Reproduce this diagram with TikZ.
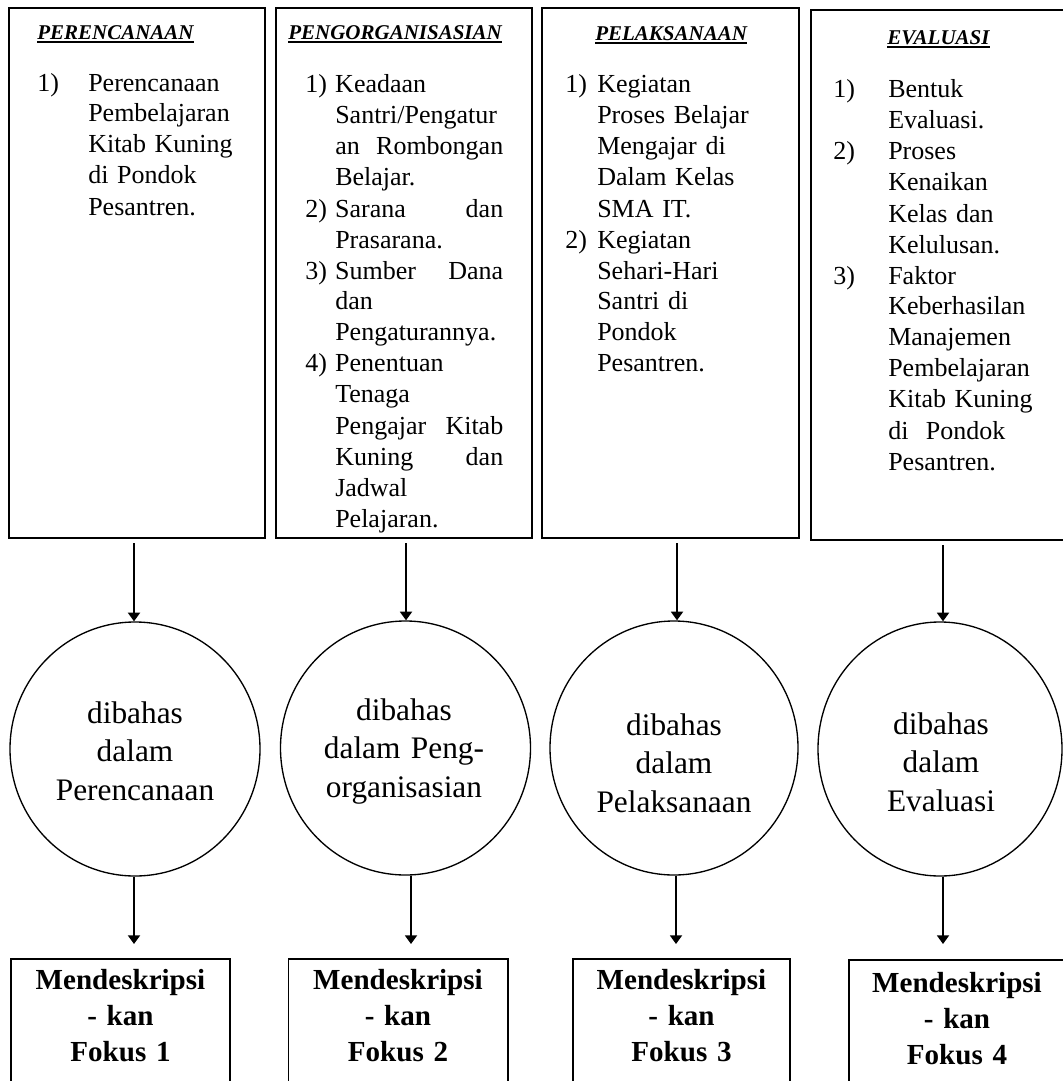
\documentclass[tikz,border=0pt]{standalone}
\usepackage{fontspec}
\setmainfont{Liberation Serif}
\usetikzlibrary{arrows.meta,fit,shapes.geometric}
\newcommand\hdrline[1]{\setbox0=\hbox{#1}\rlap{\rule[-2.4pt]{\wd0}{1.4pt}}\box0}
\begin{document}
\begin{tikzpicture}[x=0.75pt,y=-0.75pt,
  frame/.style={draw,line width=1.1pt,inner sep=0pt},
  ring/.style={draw,ellipse,line width=1pt,inner sep=0pt},
  arr/.style={line width=1.4pt,-{Triangle[width=9pt,length=6.5pt]}},
  hdr/.style={anchor=base west,inner sep=0pt,font=\fontsize{15.75}{18}\selectfont\bfseries\itshape},
  body/.style={anchor=base west,inner sep=0pt,align=left,font=\fontsize{19.5}{23.25}\selectfont},
  ctext/.style={anchor=base,inner sep=0pt,align=center,text width=165pt,font=\fontsize{23.5}{29}\selectfont},
  btext/.style={anchor=base,inner sep=0pt,align=center,text width=160pt,font=\fontsize{21.8}{27}\selectfont\bfseries}]
\useasboundingbox (0,0) rectangle (1063,1081);

% top boxes
\node[frame,fit={(9,8) (265,538)}] (b1) {};
\node[frame,fit={(276,8) (532,538)}] (b2) {};
\node[frame,fit={(542,8) (799,538)}] (b3) {};
\node[frame,fit={(811,10) (1068,540)}] (b4) {};

\node[hdr] (h1) at (37,40) {\hdrline{PERENCANAAN}};
\node[hdr] (h2) at (288,40) {\hdrline{PENGORGANISASIAN}};
\node[hdr] (h3) at (595,41) {\hdrline{PELAKSANAAN}};
\node[hdr] (h4) at (887,45) {\hdrline{EVALUASI}};

\node[body,text width=165pt] (l1) at (37,91) {%
\makebox[38.25pt][l]{1)}Perencanaan\\
\hspace*{38.25pt}Pembelajaran\\
\hspace*{38.25pt}Kitab Kuning\\
\hspace*{38.25pt}di Pondok\\
\hspace*{38.25pt}Pesantren.};

\node[body,text width=148.5pt] (l2) at (305,93) {%
\makebox[22.5pt][l]{1)}Keadaan\\
\hspace*{22.5pt}Santri/Pengatur\\
\hspace*{22.5pt}an\hfill Rombongan\\
\hspace*{22.5pt}Belajar.\\
\makebox[22.5pt][l]{2)}Sarana\hfill dan\\
\hspace*{22.5pt}Prasarana.\\
\makebox[22.5pt][l]{3)}Sumber\hfill Dana\\
\hspace*{22.5pt}dan\\
\hspace*{22.5pt}Pengaturannya.\\
\makebox[22.5pt][l]{4)}Penentuan\\
\hspace*{22.5pt}Tenaga\\
\hspace*{22.5pt}Pengajar\hfill Kitab\\
\hspace*{22.5pt}Kuning\hfill dan\\
\hspace*{22.5pt}Jadwal\\
\hspace*{22.5pt}Pelajaran.};

\node[body,text width=170pt] (l3) at (565,93) {%
\makebox[24pt][l]{1)}Kegiatan\\
\hspace*{24pt}Proses Belajar\\
\hspace*{24pt}Mengajar di\\
\hspace*{24pt}Dalam Kelas\\
\hspace*{24pt}SMA IT.\\
\makebox[24pt][l]{2)}Kegiatan\\
\hspace*{24pt}Sehari-Hari\\
\hspace*{24pt}Santri di\\
\hspace*{24pt}Pondok\\
\hspace*{24pt}Pesantren.};

\node[body,text width=168pt] (l4) at (833,98) {%
\makebox[41.25pt][l]{1)}Bentuk\\
\hspace*{41.25pt}Evaluasi.\\
\makebox[41.25pt][l]{2)}Proses\\
\hspace*{41.25pt}Kenaikan\\
\hspace*{41.25pt}Kelas dan\\
\hspace*{41.25pt}Kelulusan.\\
\makebox[41.25pt][l]{3)}Faktor\\
\hspace*{41.25pt}Keberhasilan\\
\hspace*{41.25pt}Manajemen\\
\hspace*{41.25pt}Pembelajaran\\
\hspace*{41.25pt}Kitab Kuning\\
\hspace*{41.25pt}di\ \ Pondok\\
\hspace*{41.25pt}Pesantren.};

% circles
\node[ring,minimum width=187.5pt,minimum height=190.5pt] (c1) at (135,749) {};
\node[ring,minimum width=187.5pt,minimum height=190.5pt] (c2) at (405.5,748) {};
\node[ring,minimum width=186pt,minimum height=190.5pt] (c3) at (674,748) {};
\node[ring,minimum width=183pt,minimum height=190.5pt] (c4) at (940,749) {};

\node[ctext] (t1) at (135,723) {dibahas\\dalam\\Perencanaan};
\node[ctext] (t2) at (404,720) {dibahas\\dalam Peng-\\organisasian};
\node[ctext] (t3) at (674,735) {dibahas\\dalam\\Pelaksanaan};
\node[ctext] (t4) at (941,734) {dibahas\\dalam\\Evaluasi};

% bottom boxes
\node[frame,fit={(11,959) (230,1095)}] (f1) {};
\node[frame,fit={(288.5,959) (508,1095)}] (f2) {};
\node[frame,fit={(573,959) (790,1095)}] (f3) {};
\node[frame,fit={(849,960) (1068,1095)}] (f4) {};

\node[btext] (m1) at (120.5,989) {Mendeskripsi\\- kan\\Fokus 1};
\node[btext] (m2) at (398,989) {Mendeskripsi\\- kan\\Fokus 2};
\node[btext] (m3) at (681.5,989) {Mendeskripsi\\- kan\\Fokus 3};
\node[btext] (m4) at (957,992) {Mendeskripsi\\- kan\\Fokus 4};

% arrows
\coordinate (p1) at (134,543);
\coordinate (p2) at (406,543);
\coordinate (p3) at (677,543);
\coordinate (p4) at (943,545);
\draw[arr] (p1) -- (p1 |- c1.north);
\draw[arr] (p2) -- (p2 |- c2.north);
\draw[arr] (p3) -- (p3 |- c3.north);
\draw[arr] (p4) -- (p4 |- c4.north);

\coordinate (q1) at (134,944);
\coordinate (q2) at (411,944);
\coordinate (q3) at (676,944);
\coordinate (q4) at (943,944);
\draw[arr] (q1 |- c1.south) -- (q1);
\draw[arr] (q2 |- c2.south) -- (q2);
\draw[arr] (q3 |- c3.south) -- (q3);
\draw[arr] (q4 |- c4.south) -- (q4);
\end{tikzpicture}
\end{document}
